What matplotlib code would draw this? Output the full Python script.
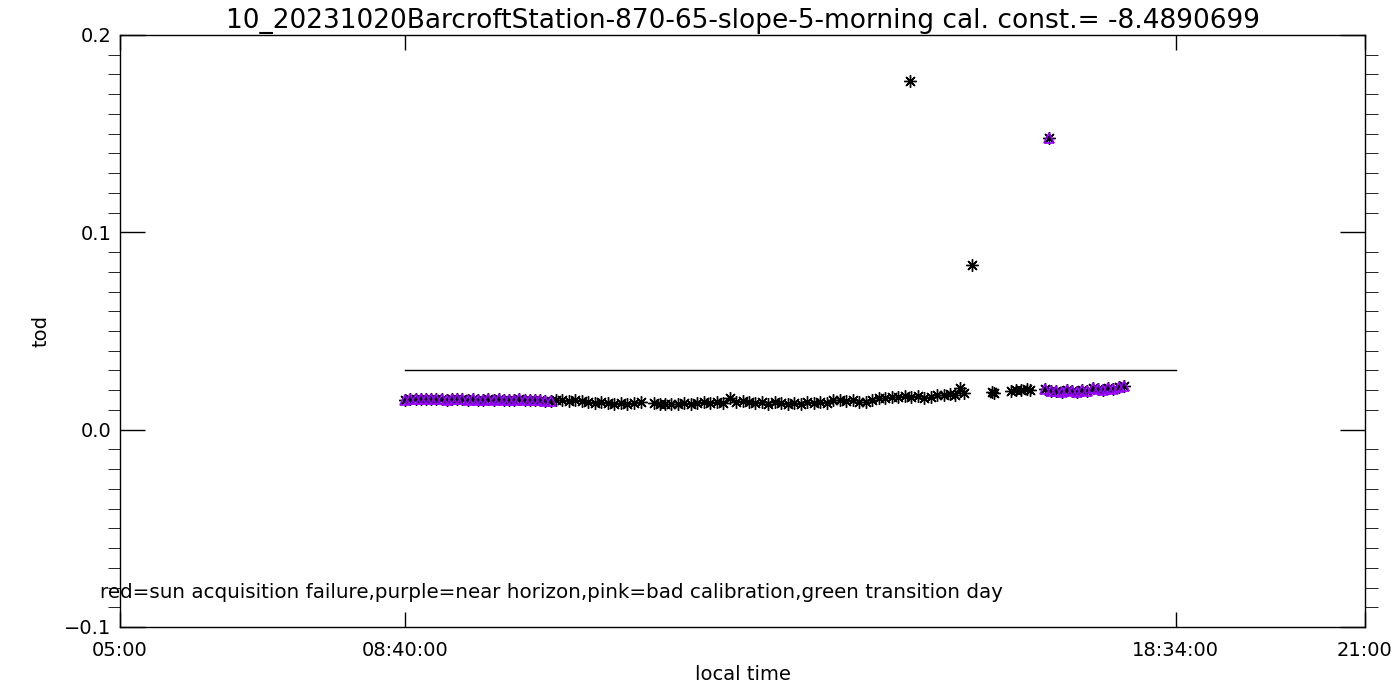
import matplotlib
matplotlib.use("Agg")
import matplotlib.pyplot as plt
from matplotlib.ticker import MultipleLocator

plt.rcParams['font.family'] = ['DejaVu Sans']

title = '10_20231020BarcroftStation-870-65-slope-5-morning cal. const.= -8.4890699'
note = 'red=sun acquisition failure,purple=near horizon,pink=bad calibration,green transition day'

# all measurements (black asterisks)
tod_time = [
    '08:40', '08:44', '08:48', '08:52', '08:56', '09:00', '09:04', '09:08', '09:12', '09:16',
    '09:20', '09:24', '09:28', '09:32', '09:36', '09:40', '09:44', '09:48', '09:52', '09:56',
    '10:00', '10:04', '10:08', '10:12', '10:16', '10:20', '10:24', '10:28', '10:32', '10:36',
    '10:41', '10:46', '10:51', '10:56', '11:01', '11:06', '11:11', '11:16', '11:21', '11:26',
    '11:31', '11:36', '11:42', '11:52', '11:56', '12:00', '12:05', '12:10', '12:15', '12:20',
    '12:25', '12:30', '12:35', '12:40', '12:45', '12:50', '12:55', '13:00', '13:05', '13:10',
    '13:15', '13:20', '13:25', '13:30', '13:35', '13:40', '13:45', '13:50', '13:55', '14:00',
    '14:05', '14:10', '14:15', '14:20', '14:25', '14:30', '14:35', '14:40', '14:45', '14:50',
    '14:55', '15:00', '15:05', '15:09', '15:10', '15:15', '15:20', '15:25', '15:30', '15:35',
    '15:40', '15:44', '15:48', '15:51', '15:57', '16:12', '16:14', '16:27', '16:31', '16:35',
    '16:39', '16:42', '16:53', '16:56', '16:58', '17:02', '17:06', '17:10', '17:14', '17:18',
    '17:22', '17:26', '17:30', '17:34', '17:38', '17:42', '17:46', '17:50', '17:54',
]
tod_value = [
    0.0152, 0.0156, 0.0154, 0.0157, 0.0155, 0.0153, 0.0156, 0.0155, 0.0152, 0.0154,
    0.0153, 0.0155, 0.0151, 0.0154, 0.0152, 0.0150, 0.0153, 0.0151, 0.0154, 0.0152,
    0.0150, 0.0152, 0.0153, 0.0149, 0.0151, 0.0148, 0.0150, 0.0147, 0.0146, 0.0149,
    0.0150, 0.0147, 0.0151, 0.0144, 0.0140, 0.0136, 0.0141, 0.0135, 0.0132, 0.0136,
    0.0131, 0.0133, 0.0138, 0.0135, 0.0130, 0.0132, 0.0128, 0.0131, 0.0134, 0.0130,
    0.0136, 0.0139, 0.0133, 0.0142, 0.0134, 0.0158, 0.0140, 0.0146, 0.0138, 0.0135,
    0.0141, 0.0132, 0.0139, 0.0134, 0.0130, 0.0136, 0.0131, 0.0138, 0.0133, 0.0142,
    0.0137, 0.0148, 0.0152, 0.0145, 0.0150, 0.0141, 0.0139, 0.0150, 0.0160, 0.0158,
    0.0168, 0.0164, 0.0172, 0.1765, 0.0166, 0.0170, 0.0162, 0.0168, 0.0175, 0.0176,
    0.0180, 0.0178, 0.0213, 0.0185, 0.0835, 0.0190, 0.0186, 0.0198, 0.0203, 0.0200,
    0.0206, 0.0199, 0.0205, 0.1480, 0.0194, 0.0198, 0.0190, 0.0201, 0.0196, 0.0192,
    0.0203, 0.0197, 0.0209, 0.0204, 0.0200, 0.0212, 0.0206, 0.0215, 0.0220,
]

# near-horizon measurements (purple triangles)
horizon_time = tod_time[:29] + tod_time[102:]
horizon_value = tod_value[:29] + tod_value[102:]

ref_time = ['08:40', '18:34']
ref_value = [0.03, 0.03]

tick_time = ['05:00', '08:40', '18:34', '21:00']
tick_label = ['05:00', '08:40:00', '18:34:00', '21:00']


def to_hours(t):
    h, m = t.split(':')
    return int(h) + int(m) / 60.0


fig = plt.figure(figsize=(14, 7), dpi=100)
ax = fig.add_axes([120 / 1400, 1 - 627 / 700, 1245 / 1400, 592 / 700])

ax.plot([to_hours(t) for t in ref_time], ref_value, color='black', lw=1)
ax.plot([to_hours(t) for t in tod_time], tod_value, ls='none', marker=(8, 2, 0),
        ms=9, mec='black', mew=1.0)
ax.plot([to_hours(t) for t in horizon_time], horizon_value, ls='none', marker='^',
        ms=7, mfc='none', mec='#9900ff', mew=1.2)

ax.set_xlim(5, 21)
ax.set_ylim(-0.1, 0.2)
ax.set_xticks([to_hours(t) for t in tick_time])
ax.set_xticklabels(tick_label)
ax.set_yticks([-0.1, 0.0, 0.1, 0.2])
ax.set_yticklabels(['\u22120.1', '0.0', '0.1', '0.2'])
ax.yaxis.set_minor_locator(MultipleLocator(0.01))
ax.tick_params(axis='both', direction='in', labelsize=14, width=1, color='black')
ax.tick_params(axis='x', which='major', length=11, top=True, pad=10)
ax.tick_params(axis='y', which='major', length=18, right=True, pad=6)
ax.tick_params(axis='y', which='minor', length=9, right=True)
for s in ax.spines.values():
    s.set_linewidth(1)

ax.set_title(title, fontsize=19, pad=5)
ax.set_xlabel('local time', fontsize=14, labelpad=4)
ax.set_ylabel('tod', fontsize=14, labelpad=10)
fig.text(100 / 1400, 1 - 593 / 700, note, fontsize=14.3, va='center', ha='left')

fig.savefig('out.png', dpi=100)
plt.close(fig)
